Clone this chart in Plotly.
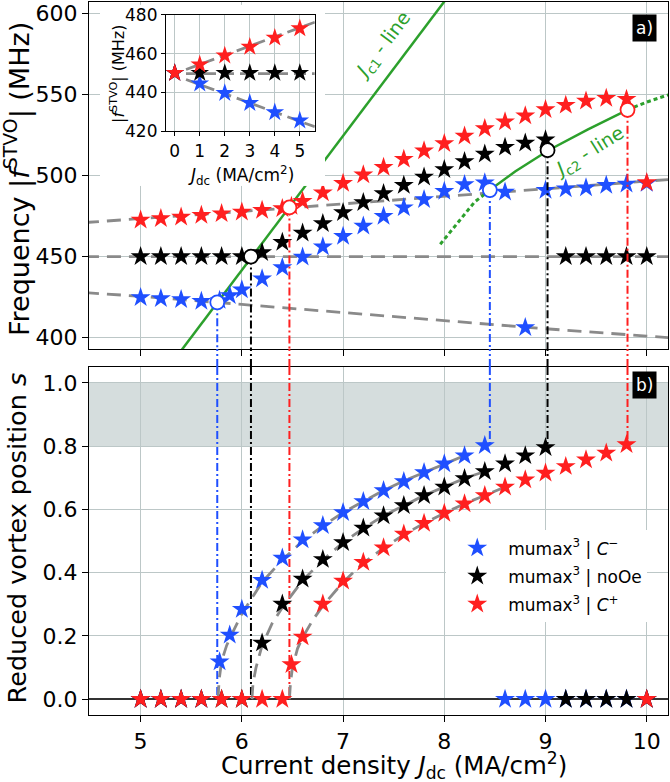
import plotly.graph_objects as go

# ---------------- data ----------------
blue_J = [5.0, 5.2, 5.4, 5.6, 5.78, 5.88, 6.0, 6.2, 6.4, 6.6, 6.8, 7.0, 7.2, 7.4, 7.6, 7.8, 8.0, 8.2, 8.4,
          8.6, 8.8, 9.0, 9.2, 9.4, 9.6, 9.8, 10.0]
blue_f = [424.7, 424.1, 423.5, 422.4, 423.0, 426.0, 429.5, 436.4, 443.2, 449.8, 456.0, 462.5, 468.9, 474.9,
          480.2, 485.2, 490.3, 494.4, 495.5, 489.9, 406.2, 490.9, 491.8, 492.4, 494.0, 494.8, 495.2]
blue_s = [0, 0, 0, 0, 0.118, 0.203, 0.284, 0.376, 0.446, 0.504, 0.549, 0.590, 0.625, 0.660, 0.688, 0.717,
          0.744, 0.770, 0.802, 0, 0, 0, 0, 0, 0, 0, 0]

black_J = [5.0, 5.2, 5.4, 5.6, 5.8, 6.0, 6.2, 6.4, 6.6, 6.8, 7.0, 7.2, 7.4, 7.6, 7.8, 8.0, 8.2, 8.4, 8.6,
           8.8, 9.0, 9.2, 9.4, 9.6, 9.8, 10.0]
black_f = [450, 450, 450, 450, 450, 450, 452.5, 458.8, 464.5, 470.4, 477.2, 483.3, 488.9, 494.0, 499.1,
           503.7, 508.6, 513.3, 517.5, 520.0, 522.0, 450, 450, 450, 450, 450]
black_s = [0, 0, 0, 0, 0, 0, 0.178, 0.301, 0.380, 0.442, 0.495, 0.541, 0.580, 0.612, 0.644, 0.671, 0.698,
           0.720, 0.744, 0.770, 0.796, 0, 0, 0, 0, 0]

red_J = [5.0, 5.2, 5.4, 5.6, 5.8, 6.0, 6.2, 6.4, 6.49, 6.6, 6.8, 7.0, 7.2, 7.4, 7.6, 7.8, 8.0, 8.2, 8.4,
         8.6, 8.8, 9.0, 9.2, 9.4, 9.6, 9.8, 10.0]
red_f = [472.6, 473.5, 474.4, 475.5, 476.5, 477.5, 478.6, 479.6, 481.0, 484.1, 489.3, 495.2, 500.4, 505.1,
         510.1, 515.2, 519.8, 524.4, 529.0, 533.1, 536.8, 540.7, 543.4, 545.9, 547.6, 547.1, 495.7]
red_s = [0, 0, 0, 0, 0, 0, 0, 0, 0.110, 0.197, 0.301, 0.374, 0.433, 0.479, 0.522, 0.556, 0.588, 0.618,
         0.644, 0.671, 0.694, 0.715, 0.736, 0.757, 0.778, 0.805, 0]

# gray dashed guide curves (top panel)
guide_J = [4.45, 5.0, 6.0, 7.0, 8.0, 9.0, 10.0, 10.25]
guide_upper = [471.0, 473.3, 477.8, 482.5, 487.0, 491.8, 496.5, 497.7]
guide_mid = [450, 450, 450, 450, 450, 450, 450, 450]
guide_lower = [427.8, 425.5, 420.5, 415.5, 410.5, 405.5, 401.0, 399.8]

# critical-current lines
jc1_J = [5.3, 8.15]
jc1_f = [383.7, 619.7]
jc2_dot1_J = [7.96, 8.155, 8.30, 8.45]
jc2_dot1_f = [457.6, 472.6, 483.7, 491.0]
jc2_solid_J = [8.45, 8.70, 9.03, 9.42, 9.81]
jc2_solid_f = [491.0, 502.5, 515.6, 528.5, 540.5]
jc2_dot2_J = [9.81, 10.0, 10.25]
jc2_dot2_f = [540.5, 545.3, 550.5]

# transition points (circles) and reduced positions
trans_lo_J = [5.757, 6.09, 6.47]
trans_lo_f = [421.8, 450.0, 480.3]
trans_lo_s = [0.0, 0.0, 0.0]
trans_hi_J = [8.45, 9.02, 9.81]
trans_hi_f = [491.0, 515.6, 540.5]
trans_hi_s = [0.80, 0.80, 0.805]

# fitted curves (bottom panel)
fit_blue_J = [5.765, 5.775, 5.80, 5.85, 5.90, 6.0, 6.2, 6.4, 6.6, 6.8, 7.0, 7.2, 7.4, 7.6, 7.8, 8.0, 8.2]
fit_blue_s = [0.0, 0.06, 0.12, 0.17, 0.205, 0.27, 0.37, 0.44, 0.50, 0.548, 0.59, 0.625, 0.66, 0.69, 0.717, 0.744, 0.77]
fit_black_J = [6.10, 6.11, 6.14, 6.20, 6.30, 6.4, 6.6, 6.8, 7.0, 7.2, 7.4, 7.6, 7.8, 8.0, 8.2, 8.4]
fit_black_s = [0.0, 0.05, 0.10, 0.17, 0.24, 0.29, 0.375, 0.44, 0.495, 0.54, 0.58, 0.612, 0.644, 0.671, 0.698, 0.72]
fit_red_J = [6.47, 6.48, 6.50, 6.55, 6.6, 6.7, 6.8, 7.0, 7.2, 7.4, 7.6, 7.8, 8.0, 8.2, 8.4, 8.6]
fit_red_s = [0.0, 0.05, 0.10, 0.16, 0.195, 0.25, 0.295, 0.37, 0.43, 0.478, 0.52, 0.556, 0.588, 0.618, 0.644, 0.671]

# inset data
inset_J = [0, 1, 2, 3, 4, 5]
inset_red = [450, 454.3, 459.0, 463.5, 468.2, 473.0]
inset_black = [450, 450, 450, 450, 450, 450]
inset_blue = [450, 444.5, 439.6, 434.5, 429.7, 425.4]
inset_fit_J = [0.45, 3.0, 5.6]
inset_fit_red = [451.8, 464.0, 476.2]
inset_fit_black = [449.6, 449.6, 449.6]
inset_fit_blue = [446.6, 434.5, 422.2]

legend_names = ["mumax<sup>3</sup> | <i>C</i><sup>−</sup>",
                "mumax<sup>3</sup> | noOe",
                "mumax<sup>3</sup> | <i>C</i><sup>+</sup>"]

x_ticks = [5, 6, 7, 8, 9, 10]
top_yticks = [400, 450, 500, 550, 600]
bot_yticks = [0.0, 0.2, 0.4, 0.6, 0.8, 1.0]
inset_xticks = [0, 1, 2, 3, 4, 5]
inset_yticks = [420, 440, 460, 480]

# ---------------- style ----------------
BLUE = "#1f4fff"
BLACK = "#000000"
RED = "#ff1f1f"
GREEN = "#2ca02c"
GRAY = "#8a8a8a"
GRID = "#bcc7c7"
FONT = "DejaVu Sans"
colors = [BLUE, BLACK, RED]

X_RANGE = [4.49, 10.21]
Y_TOP = [393, 607]
Y_BOT = [-0.05, 1.05]
TOP_DOM = [0.5133, 1.0]
BOT_DOM = [0.0, 0.488]
DASHDOT = "8px,3px,2px,3px"

fig = go.Figure()

# ---- top panel ----
for gy in (guide_upper, guide_mid, guide_lower):
    fig.add_trace(go.Scatter(x=guide_J, y=gy, mode="lines", xaxis="x", yaxis="y", showlegend=False,
                             line=dict(color=GRAY, width=2.8, dash="14px,8px")))
fig.add_trace(go.Scatter(x=jc1_J, y=jc1_f, mode="lines", xaxis="x", yaxis="y", showlegend=False,
                         line=dict(color=GREEN, width=2.5)))
for jx, jy, d in ((jc2_dot1_J, jc2_dot1_f, "4px,3px"), (jc2_solid_J, jc2_solid_f, "solid"),
                  (jc2_dot2_J, jc2_dot2_f, "4px,3px")):
    fig.add_trace(go.Scatter(x=jx, y=jy, mode="lines", xaxis="x", yaxis="y", showlegend=False,
                             line=dict(color=GREEN, width=3 if d != "solid" else 2.5, dash=d)))

for J, F, c in ((blue_J, blue_f, BLUE), (black_J, black_f, BLACK), (red_J, red_f, RED)):
    fig.add_trace(go.Scatter(x=J, y=F, mode="markers", xaxis="x", yaxis="y", showlegend=False,
                             marker=dict(symbol="star", size=15, color=c, line=dict(width=0))))

# vertical dash-dot connectors
shapes = []
for Js, Fs, Ss in ((trans_lo_J, trans_lo_f, trans_lo_s), (trans_hi_J, trans_hi_f, trans_hi_s)):
    for j, f, s, c in zip(Js, Fs, Ss, colors):
        fig.add_trace(go.Scatter(x=[j, j], y=[f, Y_TOP[0]], mode="lines", xaxis="x", yaxis="y",
                                 showlegend=False, line=dict(color=c, width=2, dash=DASHDOT)))
        fig.add_trace(go.Scatter(x=[j, j], y=[Y_BOT[1], s], mode="lines", xaxis="x2", yaxis="y2",
                                 showlegend=False, line=dict(color=c, width=2, dash=DASHDOT)))
        shapes.append(dict(type="line", xref="x", yref="paper", x0=j, x1=j, y0=BOT_DOM[1], y1=TOP_DOM[0],
                           line=dict(color=c, width=2, dash=DASHDOT), layer="above"))

for Js, Fs in ((trans_lo_J, trans_lo_f), (trans_hi_J, trans_hi_f)):
    fig.add_trace(go.Scatter(x=Js, y=Fs, mode="markers", xaxis="x", yaxis="y", showlegend=False,
                             marker=dict(symbol="circle", size=14, color="white",
                                         line=dict(color=colors, width=1.8))))

# ---- bottom panel ----
for fx, fy in ((fit_blue_J, fit_blue_s), (fit_black_J, fit_black_s), (fit_red_J, fit_red_s)):
    fig.add_trace(go.Scatter(x=fx, y=fy, mode="lines", xaxis="x2", yaxis="y2", showlegend=False,
                             line=dict(color=GRAY, width=2.8, dash="14px,8px")))
for J, S, c, name, g in ((blue_J, blue_s, BLUE, legend_names[0], "g1"),
                         (black_J, black_s, BLACK, legend_names[1], "g2"),
                         (red_J, red_s, RED, legend_names[2], "g3")):
    fig.add_trace(go.Scatter(x=J, y=S, mode="markers", xaxis="x2", yaxis="y2", name=name, legendgroup=g,
                             marker=dict(symbol="star", size=15, color=c, line=dict(width=0))))

# ---- white background panel behind the inset and its labels (empty subplot x3/y3) ----
fig.add_trace(go.Scatter(x=[], y=[], xaxis="x3", yaxis="y3", showlegend=False, hoverinfo="skip"))

# ---- inset (x4/y4) ----
for fy in (inset_fit_red, inset_fit_black, inset_fit_blue):
    fig.add_trace(go.Scatter(x=inset_fit_J, y=fy, mode="lines", xaxis="x4", yaxis="y4", showlegend=False,
                             line=dict(color=GRAY, width=2.8, dash="12px,6px")))
for F, c in ((inset_blue, BLUE), (inset_black, BLACK), (inset_red, RED)):
    fig.add_trace(go.Scatter(x=inset_J, y=F, mode="markers", xaxis="x4", yaxis="y4", showlegend=False,
                             marker=dict(symbol="star", size=14, color=c, line=dict(width=0))))

# gray band s in [0.8, 1.0]
shapes.append(dict(type="rect", xref="x2 domain", yref="y2", x0=0, x1=1, y0=0.8, y1=1.0,
                   fillcolor="#d5dddd", line=dict(width=0), layer="below"))

axis_common = dict(showgrid=True, gridcolor=GRID, gridwidth=1, showline=True, linecolor="black",
                   linewidth=1.3, mirror=True, ticks="outside", ticklen=6, tickcolor="black",
                   zeroline=False, tickfont=dict(family=FONT, size=22, color="black"))
hidden_axis = dict(visible=False, showgrid=False, zeroline=False, fixedrange=True)

fig.update_layout(
    width=670, height=782,
    margin=dict(l=89, r=2, t=2, b=67, autoexpand=False),
    paper_bgcolor="white", plot_bgcolor="white",
    font=dict(family=FONT, color="black"),
    xaxis=dict(axis_common, domain=[0, 1], range=X_RANGE, anchor="y", tickvals=x_ticks,
               showticklabels=False),
    yaxis=dict(axis_common, domain=TOP_DOM, range=Y_TOP, anchor="x", tickvals=top_yticks),
    xaxis2=dict(axis_common, domain=[0, 1], range=X_RANGE, anchor="y2", tickvals=x_ticks),
    yaxis2=dict(axis_common, domain=BOT_DOM, range=Y_BOT, anchor="x2", tickvals=bot_yticks,
                tickformat=".1f", zeroline=True, zerolinecolor="#333333", zerolinewidth=1.6),
    xaxis3=dict(hidden_axis, domain=[0.019, 0.4076], range=[0, 1], anchor="y3"),
    yaxis3=dict(hidden_axis, domain=[0.742, 0.996], range=[0, 1], anchor="x3"),
    xaxis4=dict(axis_common, domain=[0.133, 0.390], range=[-0.35, 5.6], anchor="y4",
                tickvals=inset_xticks, ticklen=4, tickfont=dict(family=FONT, size=17, color="black")),
    yaxis4=dict(axis_common, domain=[0.819, 0.982], range=[420, 480], anchor="x4",
                tickvals=inset_yticks, ticklen=4, tickfont=dict(family=FONT, size=17, color="black")),
    legend=dict(x=0.617, y=0.259, xanchor="left", yanchor="top", bgcolor="white", borderwidth=0,
                font=dict(family=FONT, size=17, color="black"), tracegroupgap=3,
                traceorder="grouped", itemwidth=52),
    shapes=shapes,
)

annotations = [
    dict(text="Frequency |<i>f</i><sup>STVO</sup>| (MHz)", xref="paper", yref="paper", x=-0.124, y=0.752,
         textangle=-90, showarrow=False, font=dict(family=FONT, size=27), xanchor="center", yanchor="middle"),
    dict(text="Reduced vortex position <i>s</i>", xref="paper", yref="paper", x=-0.124, y=0.248,
         textangle=-90, showarrow=False, font=dict(family=FONT, size=25.5), xanchor="center",
         yanchor="middle"),
    dict(text="Current density <i>J</i><sub>dc</sub> (MA/cm<sup>2</sup>)", xref="paper", yref="paper",
         x=0.527, y=-0.0705, showarrow=False, font=dict(family=FONT, size=24.5), xanchor="center",
         yanchor="middle", borderpad=0),
    dict(text="|<i>f</i><sup>STVO</sup>| (MHz)", xref="paper", yref="paper", x=(117 - 89) / 579,
         y=(715 - 74) / 713, textangle=-90, showarrow=False, font=dict(family=FONT, size=16),
         xanchor="center", yanchor="middle"),
    dict(text="<i>J</i><sub>dc</sub> (MA/cm<sup>2</sup>)", xref="paper", yref="paper", x=(241 - 89) / 579,
         y=(715 - 175) / 713, showarrow=False, font=dict(family=FONT, size=17), xanchor="center",
         yanchor="middle"),
    dict(text="<i>J</i><sub>c1</sub> - line", xref="x", yref="y", x=7.40, y=580.0, textangle=-53,
         showarrow=False, font=dict(family=FONT, size=19, color=GREEN)),
    dict(text="<i>J</i><sub>c2</sub> - line", xref="x", yref="y", x=9.43, y=514.0, textangle=-32,
         showarrow=False, font=dict(family=FONT, size=19, color=GREEN)),
    dict(text="a)", xref="paper", yref="paper", x=0.960, y=0.9635, showarrow=False, bgcolor="black",
         font=dict(family=FONT, size=17, color="white"), borderpad=3, xanchor="center", yanchor="middle"),
    dict(text="b)", xref="paper", yref="paper", x=0.960, y=0.4628, showarrow=False, bgcolor="black",
         font=dict(family=FONT, size=17, color="white"), borderpad=3, xanchor="center", yanchor="middle"),
]
fig.update_layout(annotations=annotations)

fig.write_html("out.html", config={"displayModeBar": False},
               post_script="document.body.style.margin='0px';document.body.style.overflow='hidden';")
